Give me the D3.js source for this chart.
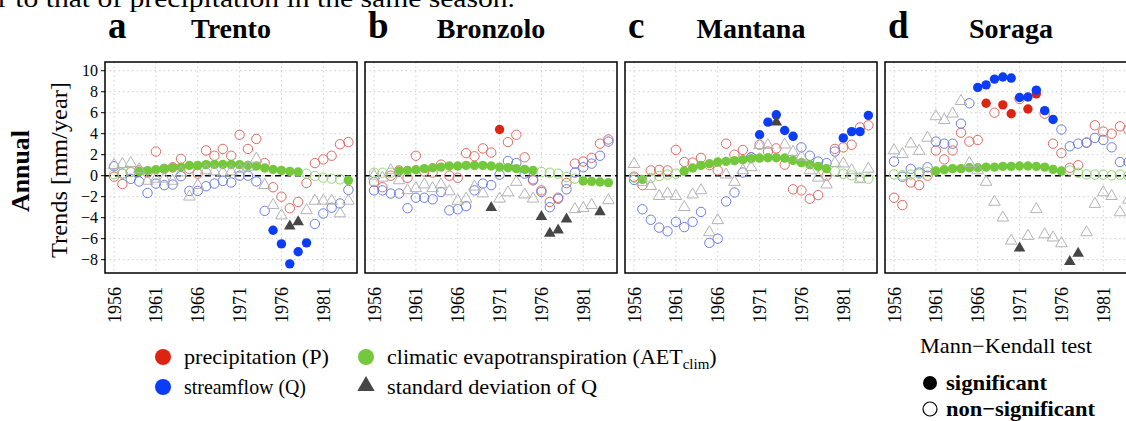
<!DOCTYPE html>
<html><head><meta charset="utf-8">
<script src="https://cdn.jsdelivr.net/npm/d3@7"></script>
<style>
html,body{margin:0;padding:0;background:#fff;overflow:hidden;}
svg{display:block;}
svg text, svg tspan{font-family:"Liberation Serif","Times New Roman","DejaVu Serif",serif;}
</style></head><body>
<svg id="chart" width="1126" height="421"></svg>
<script>
// ---------- DATA ----------
const years = [1956,1957,1958,1959,1960,1961,1962,1963,1964,1965,1966,1967,1968,1969,1970,
               1971,1972,1973,1974,1975,1976,1977,1978,1979,1980,1981,1982,1983,1984];
const xTickLabels = [1956,1961,1966,1971,1976,1981];
const yTicks = [-8,-6,-4,-2,0,2,4,6,8,10];
const stations = ["Trento","Bronzolo","Mantana","Soraga"];
const panelLetters = ["a","b","c","d"];

// Trento
const trentoP   = [-0.1,-0.8,0.35,0.5,0.3,2.3,0.65,0.8,1.6,0.65,0.2,2.4,1.9,2.55,1.9,3.9,2.55,3.5,1.2,-1.1,-2.0,-3.1,-2.5,-0.7,1.2,1.55,1.9,3.0,3.2];
const trentoQ   = [0.9,0.2,-0.3,-0.55,-1.65,-0.75,-0.9,-0.85,-0.05,-1.45,-1.45,-1.0,-0.75,-0.5,-0.65,0.0,0.0,-0.55,-3.35,-5.2,-6.5,-8.4,-7.25,-6.4,-4.6,-3.6,-3.05,-2.65,-1.35];
const trentoAET = [0.15,0.2,0.35,0.4,0.48,0.57,0.67,0.76,0.82,0.98,0.98,1.05,1.08,1.08,1.08,1.05,0.98,0.92,0.73,0.6,0.5,0.41,0.35,0.19,-0.03,-0.19,-0.28,-0.35,-0.44];
const trentoSD  = [1.0,1.1,1.2,0.6,-0.5,-0.3,-0.3,-0.5,0.3,-2.0,-0.9,0.5,0.4,0.3,0.4,0.6,0.8,1.6,-0.9,-2.8,-3.8,-4.8,-4.4,-3.3,-2.4,-2.4,-2.4,-3.6,-2.4];
const trentoPSig = [];
const trentoQSig = [1975,1976,1977,1978,1979];
const trentoAETSig = [1959,1960,1961,1962,1963,1964,1965,1966,1967,1968,1969,1970,1971,1972,1973,1974,1975,1976,1977,1978,1984];
const trentoSDSig = [1977,1978];

// Bronzolo
const bronzoloP   = [-0.6,-1.1,0.0,0.5,-0.2,1.9,0.4,0.3,1.05,0.0,-0.2,2.15,1.85,2.6,2.2,4.4,3.2,3.9,1.75,-0.45,-1.4,-2.5,-2.1,-0.7,1.15,1.35,1.7,3.05,3.45];
const bronzoloQ   = [-1.4,-1.4,-1.7,-1.7,-3.1,-2.1,-2.1,-2.25,-1.55,-3.3,-3.2,-2.9,-1.4,-0.75,-0.9,0.1,1.4,1.2,0.2,-0.35,-1.55,-3.0,-2.2,-1.3,0.3,0.8,1.15,1.9,3.25];
const bronzoloAET = [0.28,0.28,0.28,0.44,0.5,0.57,0.67,0.76,0.82,0.92,0.92,0.98,0.98,0.98,0.92,0.82,0.76,0.67,0.6,0.5,0.35,0.28,0.19,-0.13,-0.28,-0.5,-0.54,-0.6,-0.66];
const bronzoloSD  = [0.0,-0.2,0.5,-0.45,-1.4,-1.2,-0.85,-1.2,-0.85,-1.5,-2.4,-2.2,-1.05,-1.7,-3.05,-2.2,-1.6,-0.6,-1.8,-2.2,-3.9,-5.5,-5.2,-4.15,-3.2,-3.1,-2.8,-3.45,-2.35];
const bronzoloPSig = [1971];
const bronzoloQSig = [];
const bronzoloAETSig = [1959,1960,1961,1962,1963,1964,1965,1966,1967,1968,1969,1970,1971,1972,1973,1974,1975,1981,1982,1983,1984];
const bronzoloSDSig = [1970,1976,1977,1978,1979,1983];

// Mantana
const mantanaP   = [-0.1,-0.9,0.5,0.55,0.5,2.45,1.3,1.25,1.7,1.0,0.5,3.05,2.0,2.45,1.75,2.95,2.3,2.6,1.05,-1.3,-1.4,-2.2,-1.85,0.0,2.55,2.7,2.95,4.6,4.8];
const mantanaQ   = [-0.4,-3.2,-4.2,-4.95,-5.3,-4.4,-4.9,-4.4,-3.45,-6.4,-6.0,-2.45,-1.6,0.3,1.75,3.9,5.1,5.8,4.3,3.75,2.7,1.9,1.35,1.2,2.3,3.6,4.2,4.2,5.75];
const mantanaAET = [-0.2,-0.35,-0.22,-0.03,0.1,0.19,0.44,0.73,0.98,1.14,1.3,1.36,1.43,1.52,1.62,1.68,1.71,1.71,1.68,1.46,1.24,1.05,0.89,0.67,0.41,0.19,0.03,-0.19,-0.28];
const mantanaSD  = [1.1,-0.6,-1.0,-1.95,-1.7,-1.95,-3.0,-1.8,-1.4,-5.4,-4.25,0.1,-0.6,0.5,0.8,2.9,2.9,5.1,2.95,2.25,1.8,0.5,-0.2,-0.85,1.2,1.15,0.5,-0.35,0.65];
const mantanaPSig = [];
const mantanaQSig = [1971,1972,1973,1974,1975,1981,1982,1983,1984];
const mantanaAETSig = [1957,1962,1963,1964,1965,1966,1967,1968,1969,1970,1971,1972,1973,1974,1975,1976,1977,1978,1979];
const mantanaSDSig = [1973];

// Soraga
const soragaP   = [-2.1,-2.8,-0.65,-0.9,0.0,2.4,1.55,2.4,4.1,3.25,3.4,6.9,6.0,6.75,5.9,7.3,6.35,7.8,5.9,3.05,2.15,0.75,1.0,3.15,4.8,4.2,4.0,4.7,4.4];
const soragaQ   = [1.35,-0.1,0.65,0.3,0.8,3.25,3.05,3.05,4.95,6.9,8.4,8.65,9.2,9.4,9.3,7.45,7.5,8.15,6.2,5.35,4.4,2.8,3.05,3.15,3.6,3.4,2.7,1.3,1.3];
const soragaAET = [0.13,0.03,0.1,0.19,0.35,0.44,0.57,0.67,0.67,0.76,0.76,0.82,0.82,0.89,0.89,0.92,0.92,0.89,0.82,0.6,0.44,0.5,0.28,0.13,0.1,0.1,0.03,0.1,0.0];
const soragaSD  = [2.4,2.05,3.05,2.35,3.6,5.65,5.3,5.9,7.1,1.2,0.5,-0.6,-2.5,-4.0,-6.2,-6.9,-5.75,-3.2,-5.6,-5.9,-6.45,-8.2,-7.4,-5.4,-2.7,-1.6,-1.95,-3.5,-2.3];
const soragaPSig = [1967,1969,1970,1972,1973];
const soragaQSig = [1966,1967,1968,1969,1970,1971,1972,1973,1974,1975];
const soragaAETSig = [1961,1962,1963,1964,1965,1966,1967,1968,1969,1970,1971,1972,1973,1974,1975,1976];
const soragaSDSig = [1971,1977,1978];

const panelData = [
  {P:trentoP,Q:trentoQ,AET:trentoAET,SD:trentoSD,PSig:trentoPSig,QSig:trentoQSig,AETSig:trentoAETSig,SDSig:trentoSDSig},
  {P:bronzoloP,Q:bronzoloQ,AET:bronzoloAET,SD:bronzoloSD,PSig:bronzoloPSig,QSig:bronzoloQSig,AETSig:bronzoloAETSig,SDSig:bronzoloSDSig},
  {P:mantanaP,Q:mantanaQ,AET:mantanaAET,SD:mantanaSD,PSig:mantanaPSig,QSig:mantanaQSig,AETSig:mantanaAETSig,SDSig:mantanaSDSig},
  {P:soragaP,Q:soragaQ,AET:soragaAET,SD:soragaSD,PSig:soragaPSig,QSig:soragaQSig,AETSig:soragaAETSig,SDSig:soragaSDSig}
];

// ---------- STYLE ----------
const col = {
  P:{fill:"#dc2410", stroke:"#e26a62"},
  Q:{fill:"#0b3cf7", stroke:"#6b7de6"},
  AET:{fill:"#74c83c", stroke:"#96d574"},
  SD:{fill:"#464646", stroke:"#b4b4b4"}
};
const panelLeft = [105,365,625,885];
const panelW = 252, topY = 62, bottomY = 273;
const R = 4.7;
const SERIF = "Liberation Serif, Times New Roman, DejaVu Serif, serif";

const svg = d3.select("#chart");

// page text above (cut off by the page top, as in the source)
svg.append("text").attr("x",-2).attr("y",7).attr("font-size",26).attr("font-family",SERIF)
  .attr("textLength",517).attr("lengthAdjust","spacingAndGlyphs")
  .text("r to that of precipitation in the same season.");

const x = d3.scaleLinear().domain([1954.92,1985.03]).range([0,panelW]);
const y = d3.scaleLinear().domain([-9.27,10.83]).range([bottomY,topY]);
const tri = d3.symbol().type(d3.symbolTriangle).size(58);

panelData.forEach((pd,k)=>{
  const g = svg.append("g").attr("transform",`translate(${panelLeft[k]},0)`);
  // grid
  g.selectAll(".gx").data(xTickLabels).join("line")
    .attr("x1",d=>x(d)).attr("x2",d=>x(d)).attr("y1",topY).attr("y2",bottomY)
    .attr("stroke","#cfcfcf").attr("stroke-width",1).attr("stroke-dasharray","1.5,3");
  g.selectAll(".gy").data(yTicks).join("line")
    .attr("x1",0).attr("x2",panelW).attr("y1",d=>y(d)).attr("y2",d=>y(d))
    .attr("stroke","#cfcfcf").attr("stroke-width",1).attr("stroke-dasharray","1.5,3");
  // zero line
  g.append("line").attr("x1",0).attr("x2",panelW).attr("y1",y(0)).attr("y2",y(0))
    .attr("stroke","#000").attr("stroke-width",1.6).attr("stroke-dasharray","6,4");

  const circ = (key)=>{
    const vals = pd[key], sig = pd[key+"Sig"];
    g.append("g").selectAll("circle").data(years.map((yr,i)=>({yr,v:vals[i],s:sig.includes(yr)})))
      .join("circle").attr("cx",d=>x(d.yr)).attr("cy",d=>y(d.v)).attr("r",R)
      .attr("fill",d=>d.s?col[key].fill:"none")
      .attr("stroke",d=>d.s?"none":col[key].stroke).attr("stroke-width",1);
  };
  circ("P"); circ("Q"); circ("AET");
  g.append("g").selectAll("path").data(years.map((yr,i)=>({yr,v:pd.SD[i],s:pd.SDSig.includes(yr)})))
    .join("path").attr("d",tri).attr("transform",d=>`translate(${x(d.yr)},${y(d.v)})`)
    .attr("fill",d=>d.s?col.SD.fill:"none")
    .attr("stroke",d=>d.s?"none":col.SD.stroke).attr("stroke-width",1);

  // frame
  g.append("rect").attr("x",0).attr("y",topY).attr("width",panelW).attr("height",bottomY-topY)
    .attr("fill","none").attr("stroke","#000").attr("stroke-width",1.5);

  // x tick labels
  g.selectAll(".xl").data(xTickLabels).join("text")
    .attr("transform",d=>`translate(${x(d)+6.5},${bottomY+14}) rotate(-90)`)
    .attr("text-anchor","end").attr("font-size",18).attr("font-family",SERIF).text(d=>d);

  // titles
  svg.append("text").attr("x",panelLeft[k]+3).attr("y",38).attr("font-size",37).attr("font-family",SERIF)
    .attr("font-weight","bold").text(panelLetters[k]);
  svg.append("text").attr("x",panelLeft[k]+panelW/2).attr("y",38).attr("font-size",28).attr("font-family",SERIF)
    .attr("font-weight","bold").attr("text-anchor","middle").text(stations[k]);
});

// y axis (panel a)
const ya = svg.append("g").attr("transform",`translate(${panelLeft[0]},0)`);
ya.selectAll("line").data(yTicks).join("line")
  .attr("x1",-4).attr("x2",0).attr("y1",d=>y(d)).attr("y2",d=>y(d)).attr("stroke","#000").attr("stroke-width",1);
ya.selectAll("text").data(yTicks).join("text")
  .attr("x",-7).attr("y",d=>y(d)).attr("dy","0.34em").attr("text-anchor","end").attr("font-size",16)
  .attr("font-family",SERIF).text(d=>d<0?"\u2212"+Math.abs(d):d);

svg.append("text").attr("transform","translate(67,170) rotate(-90)").attr("text-anchor","middle")
  .attr("font-family",SERIF).attr("font-size",24).attr("textLength",176).attr("lengthAdjust","spacingAndGlyphs").text("Trends [mm/year]");
svg.append("text").attr("transform","translate(29,171) rotate(-90)").attr("text-anchor","middle")
  .attr("font-family",SERIF).attr("font-size",26).attr("font-weight","bold").attr("textLength",82).attr("lengthAdjust","spacingAndGlyphs").text("Annual");

// legend
const lg = svg.append("g");
const ltext = (xx,yy,txt,len,bold,fs)=>lg.append("text").attr("x",xx).attr("y",yy).attr("font-size",fs||22)
  .attr("font-family",SERIF).attr("font-weight",bold?"bold":null)
  .attr("textLength",len).attr("lengthAdjust","spacingAndGlyphs").text(txt);
lg.append("circle").attr("cx",163).attr("cy",357).attr("r",8).attr("fill",col.P.fill);
ltext(184,364,"precipitation (P)",145);
lg.append("circle").attr("cx",163).attr("cy",387).attr("r",8).attr("fill",col.Q.fill);
ltext(184,394,"streamflow (Q)",122);
lg.append("circle").attr("cx",366).attr("cy",357).attr("r",8).attr("fill",col.AET.fill);
const t3 = lg.append("text").attr("x",387).attr("y",364).attr("font-size",22).attr("font-family",SERIF);
t3.append("tspan").text("climatic evapotranspiration (AET");
t3.append("tspan").attr("font-size",15).attr("dy",5).text("clim");
t3.append("tspan").attr("dy",-5).text(")");
lg.append("path").attr("d",d3.symbol().type(d3.symbolTriangle).size(130)())
  .attr("transform","translate(366,386)").attr("fill",col.SD.fill);
ltext(387,394,"standard deviation of Q",210);

ltext(920,353,"Mann\u2212Kendall test",172,false,21);
lg.append("circle").attr("cx",930).attr("cy",383).attr("r",7).attr("fill","#000");
ltext(946,390,"significant",101,true,22);
lg.append("circle").attr("cx",930).attr("cy",409).attr("r",7).attr("fill","none").attr("stroke","#000").attr("stroke-width",1.2);
ltext(946,416,"non\u2212significant",149,true,22);
</script></body></html>
